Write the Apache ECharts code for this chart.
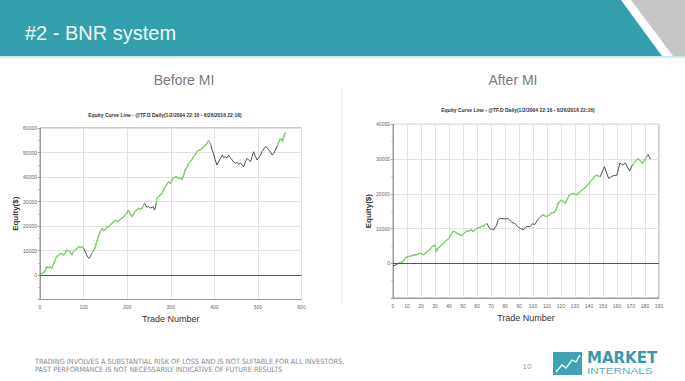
<!DOCTYPE html>
<html><head><meta charset="utf-8">
<script src="https://cdn.jsdelivr.net/npm/echarts@6/dist/echarts.min.js"></script>
<style>html,body{margin:0;padding:0;background:#fff}#c{width:685px;height:381px}</style>
</head><body><div id="c"></div>
<script>
// ---- data ----
const slideTitle = '#2 - BNR system';
const panelHeadings = ['Before MI', 'After MI'];
const chartTitle = 'Equity Curve Line - @TF.D Daily(1/2/2004 22:16 - 6/26/2016 22:16)';
const xName = 'Trade Number';
const yName = 'Equity($)';
const footerLines = ['TRADING INVOLVES A SUBSTANTIAL RISK OF LOSS AND IS NOT SUITABLE FOR ALL INVESTORS,',
                     'PAST PERFORMANCE IS NOT NECESSARILY INDICATIVE OF FUTURE RESULTS'];
const pageNumber = '10';
const logoWords = ['MARKET', 'INTERNALS'];

// Before MI: [trade number, equity]
const beforeEquity = [[0,0],[6,800],[11,1350],[15,3400],[19,3000],[23,3400],[27,2700],[32,5000],[38,7500],[42,7800],[46,8850],[50,8600],[54,8150],[58,9000],[61,10200],[65,9900],[69,9500],[73,8150],[77,9600],[80,10200],[84,10600],[88,11550],[92,11200],[96,11550],[100,10900],[104,9500],[107,8150],[110,7200],[113,6800],[116,7800],[119,8850],[123,10000],[126,10900],[130,13500],[134,15800],[138,17700],[143,19050],[146,18000],[149,18350],[153,19500],[157,19700],[161,20300],[165,21100],[169,21600],[172,22450],[176,22000],[180,21750],[184,22700],[188,23150],[192,23700],[195,24500],[199,25200],[203,26500],[207,25000],[211,23800],[215,25000],[218,25850],[222,26500],[226,27200],[230,26800],[234,27200],[237,28200],[240,29250],[243,28200],[245,27650],[249,28000],[253,27300],[257,27650],[260,27800],[263,26500],[266,28500],[268,31300],[272,32000],[276,32500],[280,33350],[284,35000],[287,36050],[291,37000],[295,38100],[299,37400],[303,38800],[306,39500],[310,39900],[314,40100],[318,39300],[322,39600],[326,38800],[330,41000],[333,42850],[338,44000],[341,45600],[345,46250],[349,47200],[352,48300],[356,49000],[360,50300],[364,50800],[368,51200],[372,51700],[376,52300],[380,53000],[383,53750],[387,54800],[392,53050],[395,51000],[398,49650],[402,47000],[406,44900],[410,46300],[414,47600],[418,48950],[421,48000],[425,48300],[429,47800],[433,48950],[437,47800],[441,46950],[445,46000],[448,45600],[452,45900],[456,45300],[460,45600],[464,45000],[467,44200],[471,46000],[475,47600],[479,47000],[483,46250],[487,48500],[490,50300],[494,48500],[498,46950],[502,48000],[506,48950],[510,50500],[514,51500],[517,52350],[521,52000],[525,51000],[529,50200],[533,48950],[537,49800],[540,51000],[544,52500],[548,54400],[552,55800],[556,54400],[560,56800],[563,58100]];
const beforeGreenRanges = [[0,100],[119,240],[266,392],[544,563]];

// After MI: [trade number, equity]
const afterEquity = [[0,-800],[2,-500],[4,0],[6,300],[7,450],[9,1600],[11,1900],[13,2100],[15,2400],[17,2400],[19,2900],[22,2400],[24,3350],[26,3800],[28,4800],[30,5250],[31,3350],[32,4300],[34,5000],[36,5750],[38,6500],[40,7200],[42,8500],[43,9300],[45,8800],[47,8350],[49,7950],[51,8700],[52,9100],[54,9300],[56,9600],[57,9100],[60,10050],[63,10550],[65,10800],[67,11500],[69,10050],[72,9600],[74,11000],[75,12450],[77,12950],[80,12750],[82,12950],[85,11700],[87,11500],[89,10550],[91,10000],[93,9600],[95,10550],[98,10550],[100,11500],[101,11000],[104,12950],[107,13900],[110,13400],[113,14400],[116,14850],[118,17250],[120,18200],[123,17250],[126,19650],[129,20150],[131,19650],[135,21100],[138,22050],[140,23000],[143,24450],[145,25400],[148,24900],[151,27800],[154,24450],[157,25150],[160,25400],[162,28800],[164,28300],[166,28800],[169,26550],[171,28300],[175,30200],[178,28800],[181,30500],[182,31350],[184,30000]];
const afterGreenRanges = [[4,67],[103,150],[170,182]];

const beforeX = {min:0, max:600, interval:100};
const beforeY = {min:-10000, max:60000, interval:10000};
const afterX = {min:0, max:190, interval:10};
const afterY = {min:-10000, max:40000, interval:10000};

// ---- build ----
function greenOf(data, ranges){
  return data.map(p => ranges.some(r => p[0] >= r[0] && p[0] <= r[1]) ? p : [p[0], null]);
}
const chart = echarts.init(document.getElementById('c'), null, {renderer:'svg'});
const font = 'Liberation Sans, Arial, sans-serif';
const narrow = "'Liberation Sans Narrow', 'DejaVu Sans Condensed', 'Liberation Sans', sans-serif";
const small = {fontSize:5, color:'#666', fontFamily:font};
function xAxis(idx, s){
  return {type:'value', gridIndex:idx, min:s.min, max:s.max, interval:s.interval,
    name:xName, nameLocation:'middle', nameGap:15,
    nameTextStyle:{fontSize:9, color:'#333', fontFamily:font},
    axisLine:{show:true, onZero:false, lineStyle:{color:'#999'}},
    axisTick:{show:false}, axisLabel:Object.assign({margin:5}, small),
    splitLine:{show:true, lineStyle:{color:'#e2e2e2', width:1}}};
}
function yAxis(idx, s){
  return {type:'value', gridIndex:idx, min:s.min, max:s.max, interval:s.interval,
    name:yName, nameLocation:'middle', nameGap:20, nameRotate:90,
    nameTextStyle:{fontSize:8, color:'#333', fontWeight:'bold', fontFamily:font},
    axisLine:{show:true, lineStyle:{color:'#999'}},
    axisTick:{show:true, length:2, lineStyle:{color:'#999'}},
    minorTick:{show:true, splitNumber:2, length:1.5, lineStyle:{color:'#aaa'}},
    axisLabel:Object.assign({margin:3, formatter:v => v < 0 ? '' : String(v)}, small),
    splitLine:{show:true, lineStyle:{color:'#e2e2e2', width:1}}};
}
function lineSeries(idx, data, color, width, zero){
  const s = {type:'line', xAxisIndex:idx, yAxisIndex:idx, data:data, showSymbol:false, symbol:'none',
    connectNulls:false, lineStyle:{color:color, width:width}, itemStyle:{color:color}, animation:false, z:zero?3:4};
  if (zero) s.markLine = {silent:true, symbol:'none', label:{show:false},
    lineStyle:{color:'#555', width:1, type:'solid'}, data:[{yAxis:0}]};
  return s;
}

chart.setOption({
  backgroundColor:'#fff',
  animation:false,
  title:[
    {text:chartTitle, left:160, top:107, textAlign:'center',
     textStyle:{fontSize:5, fontWeight:'bold', color:'#333', fontFamily:font}},
    {text:chartTitle, left:513, top:102, textAlign:'center',
     textStyle:{fontSize:5, fontWeight:'bold', color:'#333', fontFamily:font}}
  ],
  grid:[
    {left:40, top:128, width:261.5, height:171.5, show:true, borderColor:'#999', borderWidth:1, containLabel:false},
    {left:393, top:124.3, width:266, height:173.7, show:true, borderColor:'#999', borderWidth:1, containLabel:false}
  ],
  xAxis:[xAxis(0, beforeX), xAxis(1, afterX)],
  yAxis:[yAxis(0, beforeY), yAxis(1, afterY)],
  series:[
    lineSeries(0, beforeEquity, '#505050', 1, true),
    lineSeries(0, greenOf(beforeEquity, beforeGreenRanges), '#86d877', 1.3, false),
    lineSeries(1, afterEquity, '#505050', 1, true),
    lineSeries(1, greenOf(afterEquity, afterGreenRanges), '#86d877', 1.3, false)
  ],
  graphic:[
    {type:'polygon', shape:{points:[[0,0],[621,0],[662,56],[0,56]]}, style:{fill:'#34a0ae'}, silent:true},
    {type:'polygon', shape:{points:[[631,0],[685,0],[685,56],[673,56]]}, style:{fill:'#c6c6c6'}, silent:true},
    {type:'rect', shape:{x:0, y:56, width:685, height:2}, style:{fill:'#c9eaee'}, silent:true},
    {type:'text', x:25, y:33, style:{text:slideTitle, fill:'#eef8f9', font:'20px ' + font, textVerticalAlign:'middle'}, silent:true},
    {type:'text', x:184, y:80, style:{text:panelHeadings[0], fill:'#7b7b7b', font:'14px ' + font, textAlign:'center', textVerticalAlign:'middle'}, silent:true},
    {type:'text', x:513, y:80, style:{text:panelHeadings[1], fill:'#7b7b7b', font:'14px ' + font, textAlign:'center', textVerticalAlign:'middle'}, silent:true},
    {type:'line', shape:{x1:342, y1:88, x2:342, y2:305}, style:{stroke:'#e2e2e2', lineWidth:1}, silent:true},
    {type:'text', x:35, y:361, style:{text:footerLines[0], fill:'#8a8a8a', font:'7.3px ' + narrow, textVerticalAlign:'middle'}, silent:true},
    {type:'text', x:35, y:369, style:{text:footerLines[1], fill:'#8a8a8a', font:'7.3px ' + narrow, textVerticalAlign:'middle'}, silent:true},
    {type:'text', x:527, y:366, style:{text:pageNumber, fill:'#999', font:'8px ' + font, textAlign:'center', textVerticalAlign:'middle'}, silent:true},
    {type:'rect', shape:{x:553, y:352, width:29, height:23}, style:{fill:'#3fa3b5'}, silent:true},
    {type:'polyline', shape:{points:[[556,372],[562,365],[566,368],[572,360],[576,362],[580,355]]}, style:{stroke:'#fff', lineWidth:1.3, fill:null}, silent:true},
    {type:'text', x:587, y:357.5, style:{text:logoWords[0], fill:'#3a98ad', font:'bold 15px DejaVu Sans, sans-serif', textVerticalAlign:'middle'}, silent:true},
    {type:'text', x:587, y:371, scaleX:1.3, originX:0, originY:0, style:{text:logoWords[1], fill:'#5bb0c0', font:'9px ' + font, textVerticalAlign:'middle'}, silent:true}
  ]
});
</script></body></html>
